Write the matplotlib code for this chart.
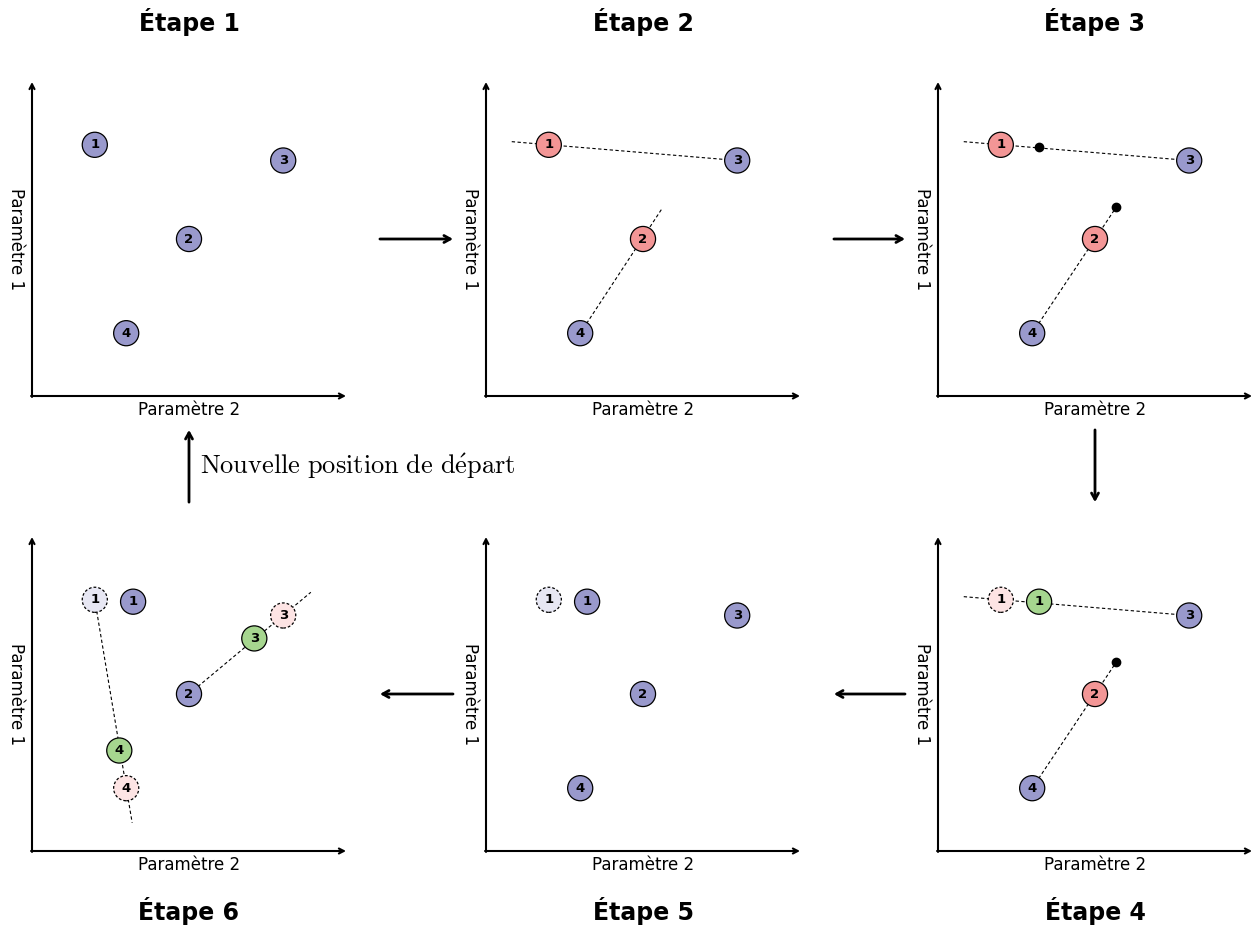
import matplotlib.pyplot as plt
from matplotlib.patches import Circle

plt.rcParams['mathtext.fontset'] = 'cm'

# couleurs
bleu = '#9999cc'
rouge = '#f39696'
vert = '#a6d68f'
rose = '#fde4e4'
lavande = '#e7e7f3'

# positions de départ (Paramètre 2, Paramètre 1)
depart = {1: (2.0, 8.0), 2: (5.0, 5.0), 3: (8.0, 7.5), 4: (3.0, 2.0)}

# points d'essai (étape 3)
essai_1 = (3.22, 7.92)
essai_2 = (5.68, 6.02)

# nouvelles positions (étapes 4 à 6)
nouveau_1 = (3.22, 7.94)
nouveau_3 = (7.08, 6.77)
nouveau_4 = (2.78, 3.2)

# bouts des droites
bout_13 = (0.82, 8.1)
bout_42 = (5.6, 5.96)
bout_14 = (3.19, 0.9)
bout_23 = (8.88, 8.24)

titres = ['Étape 1', 'Étape 2', 'Étape 3', 'Étape 4', 'Étape 5', 'Étape 6']

W, H = 1256, 926
# origine des axes de chaque étape, en pixels
origines = [(32, 396), (486, 396), (938, 396), (938, 851), (486, 851), (32, 851)]
cote = 314

fig = plt.figure(figsize=(W / 100, H / 100), dpi=100)
axes = []
for (ox, oy) in origines:
    ax = fig.add_axes([ox / W, 1 - oy / H, cote / W, cote / H])
    ax.set_xlim(0, 10)
    ax.set_ylim(0, 10)
    ax.axis('off')
    axes.append(ax)


def cercle(ax, p, num, couleur, pointille=False):
    ax.add_patch(Circle(p, 0.4, facecolor=couleur, edgecolor='black',
                        lw=0.9, ls=(0, (2.2, 1.6)) if pointille else '-',
                        zorder=3))
    ax.text(p[0], p[1], str(num), ha='center', va='center', fontsize=9.5,
            fontweight='bold', zorder=4)


def droite(ax, a, b):
    ax.plot([a[0], b[0]], [a[1], b[1]], color='black', lw=0.8,
            ls=(0, (3, 2.2)), zorder=2)


def point(ax, p):
    ax.plot(p[0], p[1], 'o', color='black', ms=6, zorder=4)


for i, ax in enumerate(axes):
    ax.annotate('', xy=(10, 0), xytext=(-0.03, 0),
                arrowprops=dict(arrowstyle='->,head_length=0.35,head_width=0.18',
                                lw=1.5, color='black', shrinkA=0, shrinkB=0))
    ax.annotate('', xy=(0, 10), xytext=(0, -0.03),
                arrowprops=dict(arrowstyle='->,head_length=0.35,head_width=0.18',
                                lw=1.5, color='black', shrinkA=0, shrinkB=0))
    ax.text(5, -0.45, 'Paramètre 2', ha='center', va='center', fontsize=12)
    ax.text(-0.5, 5, 'Paramètre 1', ha='center', va='center', fontsize=12,
            rotation=-90)
    if i < 3:
        ax.text(5, 11.9, titres[i], ha='center', va='center', fontsize=17,
                fontweight='bold')
    else:
        ax.text(5, -1.9, titres[i], ha='center', va='center', fontsize=17,
                fontweight='bold')

# Étape 1
ax = axes[0]
for k, p in depart.items():
    cercle(ax, p, k, bleu)

# Étape 2
ax = axes[1]
droite(ax, bout_13, depart[3])
droite(ax, depart[4], bout_42)
cercle(ax, depart[1], 1, rouge)
cercle(ax, depart[2], 2, rouge)
cercle(ax, depart[3], 3, bleu)
cercle(ax, depart[4], 4, bleu)

# Étape 3
ax = axes[2]
droite(ax, bout_13, depart[3])
droite(ax, depart[4], essai_2)
cercle(ax, depart[1], 1, rouge)
cercle(ax, depart[2], 2, rouge)
cercle(ax, depart[3], 3, bleu)
cercle(ax, depart[4], 4, bleu)
point(ax, essai_1)
point(ax, essai_2)

# Étape 4
ax = axes[3]
droite(ax, bout_13, depart[3])
droite(ax, depart[4], essai_2)
cercle(ax, depart[1], 1, rose, pointille=True)
cercle(ax, nouveau_1, 1, vert)
cercle(ax, depart[2], 2, rouge)
cercle(ax, depart[3], 3, bleu)
cercle(ax, depart[4], 4, bleu)
point(ax, essai_2)

# Étape 5
ax = axes[4]
cercle(ax, depart[1], 1, lavande, pointille=True)
cercle(ax, nouveau_1, 1, bleu)
cercle(ax, depart[2], 2, bleu)
cercle(ax, depart[3], 3, bleu)
cercle(ax, depart[4], 4, bleu)

# Étape 6
ax = axes[5]
droite(ax, depart[1], bout_14)
droite(ax, depart[2], bout_23)
cercle(ax, depart[1], 1, lavande, pointille=True)
cercle(ax, nouveau_1, 1, bleu)
cercle(ax, depart[2], 2, bleu)
cercle(ax, depart[3], 3, rose, pointille=True)
cercle(ax, nouveau_3, 3, vert)
cercle(ax, depart[4], 4, rose, pointille=True)
cercle(ax, nouveau_4, 4, vert)

# flèches entre les étapes
fleche = dict(arrowstyle='->,head_length=0.45,head_width=0.25', lw=2,
              color='black', shrinkA=0, shrinkB=0)
ax1, ax2, ax3, ax4, ax5, ax6 = axes
ax1.annotate('', xy=(-1.05, 5), xycoords=ax2.transData, xytext=(11.08, 5),
             textcoords=ax1.transData, arrowprops=fleche)
ax2.annotate('', xy=(-1.05, 5), xycoords=ax3.transData, xytext=(11.08, 5),
             textcoords=ax2.transData, arrowprops=fleche)
ax3.annotate('', xy=(5, 11.11), xycoords=ax4.transData, xytext=(5, -1.08),
             textcoords=ax3.transData, arrowprops=fleche)
ax4.annotate('', xy=(11.08, 5), xycoords=ax5.transData, xytext=(-1.05, 5),
             textcoords=ax4.transData, arrowprops=fleche)
ax5.annotate('', xy=(11.08, 5), xycoords=ax6.transData, xytext=(-1.05, 5),
             textcoords=ax5.transData, arrowprops=fleche)
ax6.annotate('', xy=(5, -1.08), xycoords=ax1.transData, xytext=(5, 11.11),
             textcoords=ax6.transData, arrowprops=fleche)
ax1.text(5.35, -2.24, r'$\mathrm{Nouvelle\ position\ de\ d\acute{e}part}$',
         ha='left', va='center', fontsize=19)

fig.savefig('out.png', dpi=100)
